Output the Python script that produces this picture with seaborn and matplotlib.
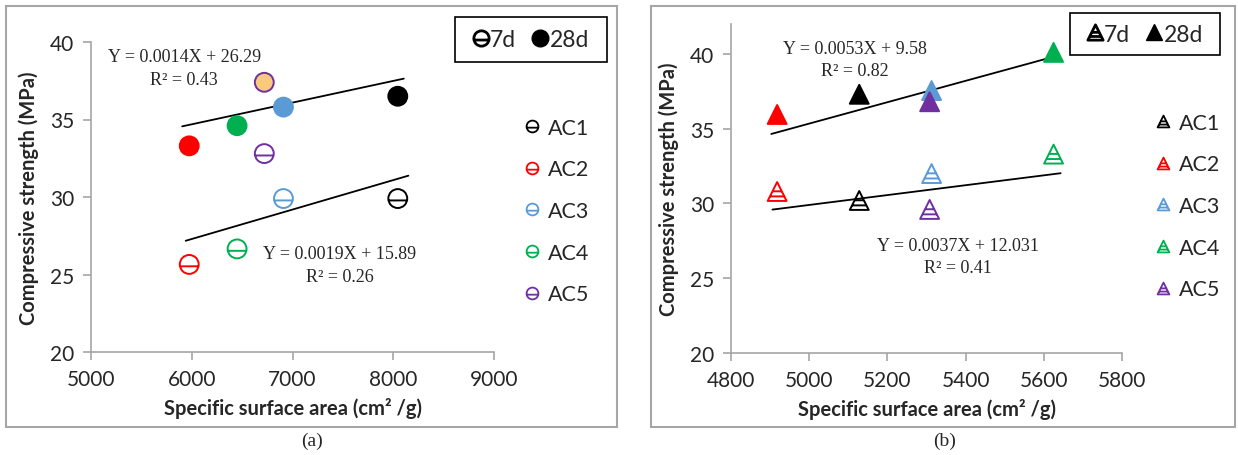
import numpy as np
import pandas as pd
import matplotlib
matplotlib.use('Agg')
import matplotlib.pyplot as plt
import seaborn as sns
from matplotlib.path import Path
from matplotlib.lines import Line2D
from matplotlib.patches import Rectangle

sns.set_theme(style="white")
plt.rcParams['font.family'] = ['Lato', 'DejaVu Sans']

mixes = ['AC1', 'AC2', 'AC3', 'AC4', 'AC5']
mix_colors = ['#000000', '#FF0000', '#5B9BD5', '#00B050', '#7030A0']

# panel (a): circles
ssa_a = [8045, 5975, 6910, 6450, 6720]
s7_a = [29.9, 25.65, 29.9, 26.65, 32.8]
s28_a = [36.5, 33.3, 35.8, 34.6, 37.4]
fill28_a = ['#000000', '#FF0000', '#5B9BD5', '#00B050', '#F9C97E']

# panel (b): triangles
ssa_b = [5128, 4918, 5313, 5625, 5308]
s7_b = [30.2, 30.8, 32.0, 33.3, 29.6]
s28_b = [37.3, 35.95, 37.55, 40.1, 36.8]
fill28_b = mix_colors

# trend lines (slope, intercept, x span) for 7d and 28d
trend_a = {'7d': (0.0019, 15.89, [5940, 8150]), '28d': (0.0014, 26.29, [5905, 8105])}
trend_b = {'7d': (0.0033, 13.40, [4906, 5643]), '28d': (0.00715, -0.41, [4903, 5636])}

eq_a = [('Y = 0.0014X + 26.29', 'R² = 0.43', 5925, 39.05),
        ('Y = 0.0019X + 15.89', 'R² = 0.26', 7470, 26.35)]
eq_b = [('Y = 0.0053X + 9.58', 'R² = 0.82', 5117, 40.35),
        ('Y = 0.0037X + 12.031', 'R² = 0.41', 5381, 27.2)]

W, H = 1238, 456
GRAY = '#A6A6A6'

# circle with a bar, triangle with bars (Excel style 7d markers)
circ_bar = Path.make_compound_path(
    Path.unit_circle(),
    Path([(-0.98, -0.2), (0.98, -0.2)], [Path.MOVETO, Path.LINETO]))
tri_bar = Path.make_compound_path(
    Path([(0, 1), (-1, -1), (1, -1), (0, 1)],
         [Path.MOVETO, Path.LINETO, Path.LINETO, Path.CLOSEPOLY]),
    Path([(-0.49, 0.02), (0.49, 0.02)], [Path.MOVETO, Path.LINETO]),
    Path([(-0.76, -0.52), (0.76, -0.52)], [Path.MOVETO, Path.LINETO]))


def fx(x):
    return x / W


def fy(y):
    return 1 - y / H


def draw_panel(ax, ssa, s7, s28, fill28, trend, eqs, mk7, mk28, size):
    df = pd.DataFrame({'ssa': ssa * 2, 'strength': s7 + s28,
                       'mix': mixes * 2, 'age': ['7d'] * 5 + ['28d'] * 5})
    pal = dict(zip(mixes, mix_colors))

    for age in ['28d', '7d']:
        slope, icpt, span = trend[age]
        xs = np.array(span)
        ax.plot(xs, slope * xs + icpt, color='black', lw=1.3, zorder=2)

    sub = df[df.age == '7d']
    sns.scatterplot(data=sub, x='ssa', y='strength', hue='mix', palette=pal,
                    marker=mk7, s=size, legend=False, ax=ax, zorder=3)
    coll = ax.collections[-1]
    coll.set_facecolor('none')
    coll.set_edgecolor([pal[m] for m in sub.mix])
    coll.set_linewidth(1.4)

    sub = df[df.age == '28d']
    sns.scatterplot(data=sub, x='ssa', y='strength', hue='mix', palette=pal,
                    marker=mk28, s=size, legend=False, ax=ax, zorder=3)
    coll = ax.collections[-1]
    coll.set_facecolor(fill28)
    coll.set_edgecolor([pal[m] for m in sub.mix])
    coll.set_linewidth(1.4)

    for line1, line2, xt, yt in eqs:
        ax.text(xt, yt, line1, ha='center', va='center', fontsize=13,
                family='Liberation Serif')
        ax.text(xt, yt - 1.45, line2, ha='center', va='center', fontsize=13,
                family='Liberation Serif')

    sns.despine(ax=ax)
    for sp in ['left', 'bottom']:
        ax.spines[sp].set_color(GRAY)
        ax.spines[sp].set_linewidth(1.2)
    ax.tick_params(direction='out', length=6, width=1.2, color=GRAY,
                   labelsize=15, pad=6, left=True, bottom=True)
    ax.set_yticks([20, 25, 30, 35, 40])
    ax.set_xlabel('Specific surface area (cm² /g)', fontsize=14.5,
                  fontweight='bold', labelpad=6)
    ax.set_ylabel('Compressive strength (MPa)', fontsize=14.5,
                  fontweight='bold', labelpad=8)
    ax.grid(False)


fig = plt.figure(figsize=(W / 100, H / 100), dpi=100)

ax_a = fig.add_axes([fx(91), fy(353), fx(494) - fx(91), fy(43) - fy(353)])
draw_panel(ax_a, ssa_a, s7_a, s28_a, fill28_a, trend_a, eq_a, circ_bar, 'o', 185)
ax_a.set_xlim(5000, 9000)
ax_a.set_ylim(20, 40)
ax_a.set_xticks([5000, 6000, 7000, 8000, 9000])

ax_b = fig.add_axes([fx(731), fy(354), fx(1122) - fx(731), fy(25) - fy(354)])
draw_panel(ax_b, ssa_b, s7_b, s28_b, fill28_b, trend_b, eq_b, tri_bar, '^', 185)
ax_b.set_xlim(4800, 5800)
ax_b.set_ylim(20, 42)
ax_b.set_xticks([4800, 5000, 5200, 5400, 5600, 5800])

# panel frames and captions
for x0, x1 in [(6, 617), (651, 1235)]:
    fig.add_artist(Rectangle((fx(x0), fy(428)), fx(x1) - fx(x0), fy(7) - fy(428),
                             transform=fig.transFigure, fill=False, ec=GRAY, lw=1.5))
fig.text(fx(312), fy(441), '(a)', ha='center', va='center', fontsize=14,
         family='Liberation Serif')
fig.text(fx(945), fy(441), '(b)', ha='center', va='center', fontsize=14,
         family='Liberation Serif')

# age legends in boxes
for (bx0, by0, bx1, by1), mk7, mk28 in [((455, 18, 607, 63), circ_bar, 'o'),
                                        ((1070, 14, 1220, 56), tri_bar, '^')]:
    fig.add_artist(Rectangle((fx(bx0), fy(by1)), fx(bx1) - fx(bx0), fy(by0) - fy(by1),
                             transform=fig.transFigure, fill=False, ec='black', lw=1.2))
    handles = [Line2D([], [], ls='none', marker=mk7, mfc='none', mec='black', mew=2, ms=11),
               Line2D([], [], ls='none', marker=mk28, mfc='black', mec='black', ms=12)]
    fig.legend(handles, ['7d', '28d'], loc='center',
               bbox_to_anchor=(fx((bx0 + bx1) / 2), fy((by0 + by1) / 2)),
               ncol=2, frameon=False, fontsize=16.5, handlelength=0.7,
               handletextpad=0.05, columnspacing=0.7, borderpad=0, borderaxespad=0)

# mix legends
for mk, lx, ly in [(circ_bar, 521, 212), (tri_bar, 1152, 207)]:
    handles = [Line2D([], [], ls='none', marker=mk, mfc='none', mec=c, mew=1.3, ms=8.5)
               for c in mix_colors]
    fig.legend(handles, mixes, loc='center left', bbox_to_anchor=(fx(lx), fy(ly)),
               frameon=False, fontsize=15.5, handlelength=1.0, handletextpad=0.25,
               labelspacing=1.0, borderpad=0, borderaxespad=0)

fig.savefig('out.png', dpi=100)
